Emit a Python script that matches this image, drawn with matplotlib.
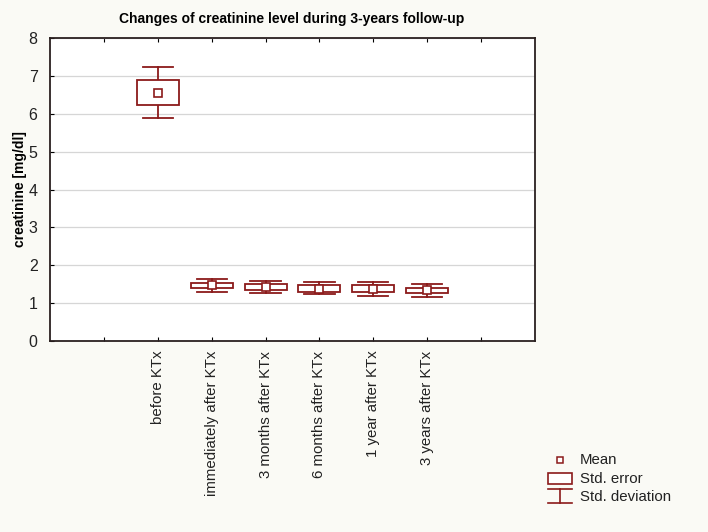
import matplotlib
matplotlib.use("Agg")
import matplotlib.pyplot as plt
from matplotlib.patches import Rectangle
from matplotlib.lines import Line2D

plt.rcParams["font.family"] = ["Liberation Sans", "DejaVu Sans"]

# data
labels = ["before KTx", "immediately after KTx", "3 months after KTx",
          "6 months after KTx", "1 year after KTx", "3 years after KTx"]
means = [6.55, 1.47, 1.43, 1.38, 1.38, 1.34]
se_low = [6.23, 1.40, 1.35, 1.30, 1.29, 1.26]
se_high = [6.89, 1.54, 1.50, 1.47, 1.47, 1.41]
sd_low = [5.88, 1.30, 1.26, 1.23, 1.19, 1.17]
sd_high = [7.24, 1.63, 1.59, 1.55, 1.57, 1.50]

red = "#8b1a1a"
bg = "#fafaf5"

fig = plt.figure(figsize=(7.08, 5.32), dpi=100)
fig.patch.set_facecolor(bg)
ax = fig.add_axes([50 / 708, 1 - 341 / 532, 485 / 708, 303 / 532])
ax.set_facecolor("white")

positions = list(range(2, 2 + len(labels)))
box_w = 0.78
cap_w = 0.56

for x, m, lo, hi, dlo, dhi in zip(positions, means, se_low, se_high, sd_low, sd_high):
    # std. deviation whisker
    ax.plot([x, x], [dlo, dhi], color=red, lw=1.3, zorder=2)
    ax.plot([x - cap_w / 2, x + cap_w / 2], [dhi, dhi], color=red, lw=1.3, zorder=2)
    ax.plot([x - cap_w / 2, x + cap_w / 2], [dlo, dlo], color=red, lw=1.3, zorder=2)
    # std. error box
    ax.add_patch(Rectangle((x - box_w / 2, lo), box_w, hi - lo,
                           facecolor="white", edgecolor=red, lw=1.3, zorder=3))
    # mean
    ax.plot(x, m, marker="s", ms=5.5, mfc="white", mec=red, mew=1.2, zorder=4)

ax.set_xlim(0, 9)
ax.set_ylim(0, 8)
ax.set_yticks(range(0, 9))
ax.set_xticks(range(1, 9))
ax.set_xticklabels([""] + labels + [""], rotation=90, fontsize=10.8)
ax.tick_params(axis="y", labelsize=11.5, direction="in", length=3, pad=9,
               labelcolor="#222222")
ax.tick_params(axis="x", direction="in", length=3, top=True, pad=7,
               labelcolor="#222222")
ax.grid(axis="y", color="#d6d6d6", lw=0.9)
ax.set_axisbelow(True)
for s in ax.spines.values():
    s.set_color("#2a2020")
    s.set_linewidth(1.3)

ax.set_ylabel("creatinine [mg/dl]", fontsize=10, fontweight="bold", labelpad=1)
fig.text(292 / 708, 1 - 19 / 532, "Changes of creatinine level during 3-years follow-up",
         ha="center", va="center", fontsize=10, fontweight="bold")

# legend drawn in figure pixels
def fx(px):
    return px / 708

def fy(py):
    return 1 - py / 532

tr = fig.transFigure
fig.add_artist(Line2D([fx(560)], [fy(460)], marker="s", ms=5, mfc="white",
                      mec=red, mew=1.1, transform=tr))
fig.add_artist(Rectangle((fx(548), fy(484)), fx(572) - fx(548), fy(473) - fy(484),
                         facecolor="white", edgecolor=red, lw=1.2, transform=tr))
fig.add_artist(Line2D([fx(548), fx(572)], [fy(489), fy(489)], color=red, lw=1.2, transform=tr))
fig.add_artist(Line2D([fx(548), fx(572)], [fy(503), fy(503)], color=red, lw=1.2, transform=tr))
fig.add_artist(Line2D([fx(560), fx(560)], [fy(489), fy(503)], color=red, lw=1.2, transform=tr))
for py, txt in [(460, "Mean"), (479, "Std. error"), (497, "Std. deviation")]:
    fig.text(fx(580), fy(py), txt, fontsize=10.8, va="center", ha="left", color="#222222")

fig.savefig("out.png", dpi=100, facecolor=bg)
